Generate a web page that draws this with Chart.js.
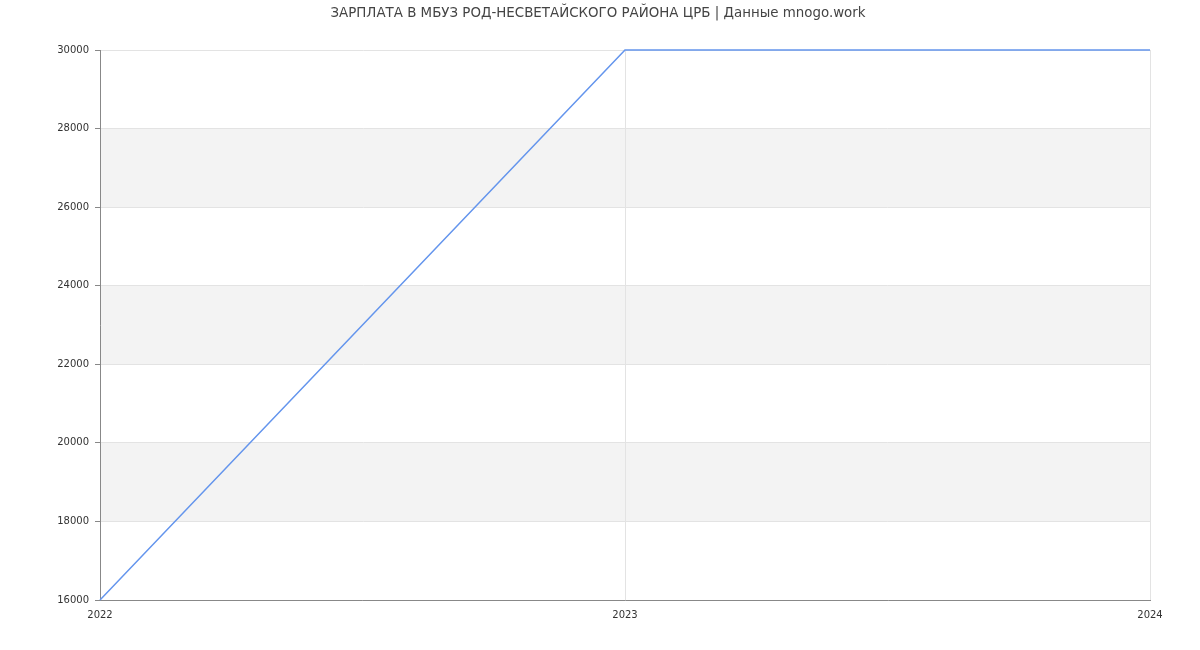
<!DOCTYPE html>
<html><head><meta charset="utf-8">
<script src="https://cdn.jsdelivr.net/npm/chart.js@4/dist/chart.umd.min.js"></script>
<style>html,body{margin:0;padding:0;background:#fff}#wrap{width:1200px;height:650px}</style>
</head><body><div id="wrap"><canvas id="c" width="1200" height="650"></canvas></div>
<script>
const titleText = "ЗАРПЛАТА В МБУЗ РОД-НЕСВЕТАЙСКОГО РАЙОНА ЦРБ | Данные mnogo.work";
const years = [2022, 2023, 2024];
const salaries = [16000, 30000, 30000];
const yMin = 16000, yMax = 30000, yStep = 2000;
const bands = [[18000, 20000], [22000, 24000], [26000, 28000]];

const bandPlugin = {
  id: 'bands',
  beforeDraw(chart) {
    const {ctx, chartArea, scales} = chart;
    ctx.save();
    ctx.fillStyle = '#f3f3f3';
    bands.forEach(([a, b]) => {
      const y1 = scales.y.getPixelForValue(b), y2 = scales.y.getPixelForValue(a);
      ctx.fillRect(chartArea.left, y1, chartArea.right - chartArea.left, y2 - y1);
    });
    ctx.restore();
  },
  afterDraw(chart) {
    const ctx = chart.ctx;
    ctx.save();
    ctx.font = '13.4px "DejaVu Sans"';
    ctx.fillStyle = '#444';
    ctx.textAlign = 'center';
    ctx.textBaseline = 'middle';
    ctx.fillText(titleText, 598, 14);
    ctx.restore();
  }
};

new Chart(document.getElementById('c'), {
  type: 'line',
  data: {
    datasets: [{
      data: years.map((y, i) => ({x: y, y: salaries[i]})),
      borderColor: '#6495ed',
      borderWidth: 1.5,
      pointRadius: 0,
      fill: false,
      tension: 0,
      clip: false
    }]
  },
  options: {
    responsive: false,
    animation: false,
    layout: {padding: {left: 0, right: 50, top: 50, bottom: 0}},
    plugins: {legend: {display: false}, title: {display: false}, tooltip: {enabled: false}},
    scales: {
      x: {
        type: 'linear', min: 2022, max: 2024,
        afterFit(s) { s.height = 50; },
        ticks: {stepSize: 1, color: '#333', font: {family: 'DejaVu Sans', size: 10}, padding: 9,
          callback: v => String(v), maxRotation: 0},
        grid: {color: '#e3e3e3', drawTicks: false, tickLength: 0},
        border: {color: '#888'}
      },
      y: {
        min: yMin, max: yMax,
        afterFit(s) { s.width = 100; },
        ticks: {stepSize: yStep, color: '#333', font: {family: 'DejaVu Sans', size: 10}, padding: 6,
          callback: v => String(v)},
        grid: {color: '#e3e3e3', tickLength: 5, tickColor: '#888'},
        border: {color: '#888'}
      }
    }
  },
  plugins: [bandPlugin]
});
</script></body></html>
